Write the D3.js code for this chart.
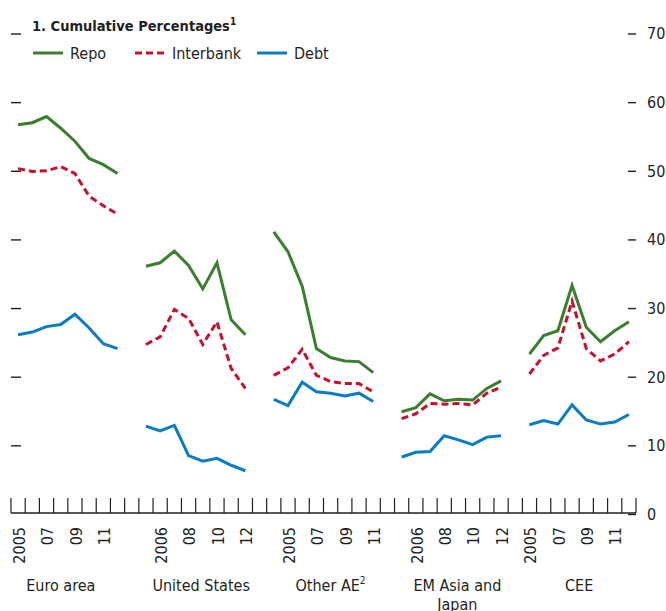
<!DOCTYPE html>
<html>
<head>
<meta charset="utf-8">
<script src="https://cdn.jsdelivr.net/npm/d3@7/dist/d3.min.js"></script>
<style>
  html, body { margin: 0; padding: 0; background: #fff; }
  svg text { font-family: "Liberation Sans Narrow", "DejaVu Sans Condensed", "Roboto Condensed", sans-serif; font-stretch: condensed; fill: #231f20; }
</style>
</head>
<body>
<svg id="chart" width="666" height="611"></svg>
<script>
// Regions shown along the axis, left to right
const regions = ["Euro area", "United States", "Other AE", "EM Asia and Japan", "CEE"];
const regionLines = [["Euro area"], ["United States"], ["Other AE", "2"], ["EM Asia and", "Japan"], ["CEE"]];

// Years covered by each region's series
const regionYears = [
  [2005, 2006, 2007, 2008, 2009, 2010, 2011, 2012],
  [2005, 2006, 2007, 2008, 2009, 2010, 2011, 2012],
  [2004, 2005, 2006, 2007, 2008, 2009, 2010, 2011],
  [2005, 2006, 2007, 2008, 2009, 2010, 2011, 2012],
  [2005, 2006, 2007, 2008, 2009, 2010, 2011, 2012]
];

// Years that carry a label under each region
const labeledYears = [
  [2005, 2007, 2009, 2011],
  [2006, 2008, 2010, 2012],
  [2005, 2007, 2009, 2011],
  [2006, 2008, 2010, 2012],
  [2005, 2007, 2009, 2011]
];

// Cumulative percentages, one row per region
const repo = [
  [56.7, 57.0, 57.9, 56.2, 54.3, 51.8, 50.9, 49.6],
  [36.1, 36.6, 38.3, 36.2, 32.8, 36.6, 28.3, 26.1],
  [41.1, 38.2, 33.2, 24.1, 22.8, 22.3, 22.2, 20.6],
  [14.9, 15.5, 17.5, 16.5, 16.7, 16.6, 18.3, 19.4],
  [23.3, 26.0, 26.7, 33.3, 27.2, 25.1, 26.7, 28.0]
];
const interbank = [
  [50.3, 49.9, 50.0, 50.6, 49.6, 46.3, 44.9, 43.7],
  [24.7, 25.8, 29.8, 28.5, 24.7, 28.0, 21.2, 18.3],
  [20.2, 21.3, 24.0, 20.2, 19.3, 19.0, 19.0, 17.8],
  [13.9, 14.6, 16.1, 16.0, 16.1, 15.9, 17.6, 18.5],
  [20.4, 23.1, 24.2, 31.0, 24.1, 22.3, 23.3, 25.1]
];
const debt = [
  [26.1, 26.5, 27.3, 27.6, 29.1, 27.1, 24.8, 24.1],
  [12.8, 12.1, 12.9, 8.5, 7.7, 8.1, 7.1, 6.3],
  [16.7, 15.8, 19.2, 17.8, 17.6, 17.2, 17.6, 16.4],
  [8.3, 9.0, 9.1, 11.4, 10.8, 10.1, 11.2, 11.4],
  [13.0, 13.6, 13.1, 15.9, 13.7, 13.1, 13.4, 14.5]
];

const yTicks = [0, 10, 20, 30, 40, 50, 60, 70];

const seriesList = [
  { name: "Repo", values: repo, color: "#3a7f2e", dash: null },
  { name: "Interbank", values: interbank, color: "#c8102e", dash: "7,4" },
  { name: "Debt", values: debt, color: "#0a7cc4", dash: null }
];

const svg = d3.select("#chart");
const ink = "#231f20";
const fs = 16;

// One band per year, with an empty band between regions
const slotKey = (r, yr) => r + "|" + yr;
const slots = [];
regions.forEach((r, i) => {
  regionYears[i].forEach(yr => slots.push(slotKey(r, yr)));
  if (i < regions.length - 1) slots.push("gap" + i);
});

const x = d3.scaleBand().domain(slots).range([11, 636]).padding(0);
const cx = k => x(k) + x.bandwidth() / 2;
const y = d3.scaleLinear().domain([0, 70]).range([514, 33.5]);

// Right-hand value axis
const yRight = svg.append("g")
  .attr("transform", "translate(628,0)")
  .call(d3.axisRight(y).tickValues(yTicks).tickSize(8).tickPadding(11).tickFormat(d3.format("d")));
yRight.select(".domain").remove();
yRight.selectAll(".tick line").attr("stroke", ink).attr("stroke-width", 1.4);
yRight.selectAll(".tick text").attr("font-size", fs).attr("dy", "0.34em").style("fill", ink);

// Left-hand tick marks without labels
const yLeft = svg.append("g")
  .attr("transform", "translate(21,0)")
  .call(d3.axisLeft(y).tickValues(yTicks.filter(v => v > 0)).tickSize(10).tickFormat(""));
yLeft.select(".domain").remove();
yLeft.selectAll(".tick line").attr("stroke", ink).attr("stroke-width", 1.4);

// Baseline with a tick at every band edge
const baseY = y(0) - 1;
const edges = slots.map(k => x(k)).concat([x.range()[1]]);
svg.append("line")
  .attr("x1", x.range()[0]).attr("x2", x.range()[1])
  .attr("y1", baseY).attr("y2", baseY)
  .attr("stroke", ink).attr("stroke-width", 1.6);
svg.append("g").selectAll("line").data(edges).join("line")
  .attr("x1", d => d).attr("x2", d => d)
  .attr("y1", baseY).attr("y2", baseY - 15)
  .attr("stroke", ink).attr("stroke-width", 1.2);

// Year labels, rotated
const yearLabels = [];
regions.forEach((r, i) => {
  labeledYears[i].forEach((yr, j) => {
    yearLabels.push({ key: slotKey(r, yr), text: j === 0 ? String(yr) : String(yr).slice(2) });
  });
});
svg.append("g").selectAll("text").data(yearLabels).join("text")
  .attr("transform", d => `translate(${cx(d.key) + 1},527) rotate(-90)`)
  .attr("text-anchor", "end")
  .attr("dy", "0.36em")
  .attr("font-size", fs)
  .text(d => d.text);

// Region names under the year labels (small horizontal nudges per name)
const nameShift = [-7, 5.5, 7, 6, 0];
regions.forEach((r, i) => {
  const yrs = regionYears[i];
  const mid = (cx(slotKey(r, yrs[0])) + cx(slotKey(r, yrs[yrs.length - 1]))) / 2 + nameShift[i];
  const lines = regionLines[i];
  const t = svg.append("text")
    .attr("x", mid)
    .attr("y", 591)
    .attr("text-anchor", "middle")
    .attr("font-size", fs);
  if (r === "Other AE") {
    t.append("tspan").text(lines[0]);
    t.append("tspan").attr("dy", -7).attr("font-size", 10).text(lines[1]);
  } else if (lines.length === 2) {
    t.append("tspan").attr("x", mid).text(lines[0]);
    t.append("tspan").attr("x", mid).attr("dy", 18.5).text(lines[1]);
  } else {
    t.text(lines[0]);
  }
});

// Series lines, drawn separately for each region
const line = d3.line().x(d => cx(d.key)).y(d => y(d.v));
seriesList.forEach(s => {
  regions.forEach((r, i) => {
    const pts = regionYears[i].map((yr, j) => ({ key: slotKey(r, yr), v: s.values[i][j] }));
    svg.append("path")
      .datum(pts)
      .attr("d", line)
      .attr("fill", "none")
      .attr("stroke", s.color)
      .attr("stroke-width", 3)
      .attr("stroke-linejoin", "miter")
      .attr("stroke-dasharray", s.dash);
  });
});

// Panel title
const title = svg.append("text")
  .attr("x", 32).attr("y", 31)
  .attr("font-size", 14.5)
  .attr("font-weight", "bold");
title.append("tspan").text("1. Cumulative Percentages");
title.append("tspan").attr("dy", -6).attr("font-size", 10).text("1");

// Legend
const legendX = [33, 135, 257];
const legend = svg.append("g");
seriesList.forEach((s, i) => {
  legend.append("line")
    .attr("x1", legendX[i]).attr("x2", legendX[i] + 30)
    .attr("y1", 53).attr("y2", 53)
    .attr("stroke", s.color).attr("stroke-width", 3)
    .attr("stroke-dasharray", s.dash);
  legend.append("text")
    .attr("x", legendX[i] + 37).attr("y", 59)
    .attr("font-size", fs)
    .text(s.name);
});
</script>
</body>
</html>
